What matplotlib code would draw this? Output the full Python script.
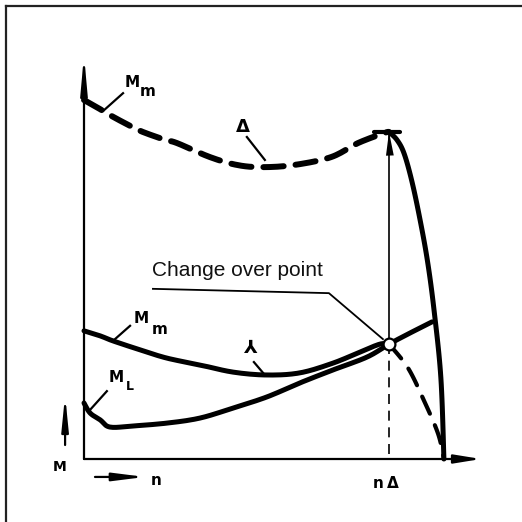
import numpy as np
import matplotlib.pyplot as plt
from matplotlib.lines import Line2D

# speed n in % of the change-over speed, torque M in arbitrary units
n_delta = 100.0

# delta (triangle) torque curve
delta_n = [0, 4.6, 8.5, 15.1, 19.3, 26.6, 30.5, 41.3, 50.2, 58.4, 68.9, 81, 89.8, 98.4, 100,
           102.6, 104.9, 107.4, 110.0, 112.6, 114.8, 117.0, 118.0]
delta_m = [100, 97.8, 95.8, 92.8, 91.1, 88.9, 88.0, 84.1, 81.9, 81.3, 81.9, 84.1, 88, 90.8, 91.1,
           88.9, 85.2, 77.7, 67.4, 55.2, 41.2, 22.6, 0]

# star torque curve
star_n = [0, 5.3, 9.5, 18.4, 27.2, 38, 48.9, 60, 70.8, 81.6, 90.5, 97, 100,
          106.2, 111.5, 116.1, 118.0]
star_m = [35.7, 34.3, 32.9, 30.4, 28.1, 26.2, 24.2, 23.4, 24.0, 26.7, 29.8, 32.0, 32.0,
          25.4, 16.2, 7.0, 0]

# load torque curve
load_n = [0, 2, 5.3, 8.5, 16, 27.2, 38, 48.9, 60, 70.8, 81.6, 92.8, 100, 106.9, 114.1]
load_m = [15.6, 12.8, 10.9, 8.9, 9.2, 10.0, 11.4, 14.2, 17.3, 21.2, 24.8, 28.4, 32.0, 35.1, 38.2]

m_change = 32.0


def smooth(xs, ys, steps=12):
    # catmull-rom line through the read points (drawing only)
    p = np.column_stack([xs, ys]).astype(float)
    p = np.vstack([p[0], p, p[-1]])
    out = []
    t = np.linspace(0, 1, steps, endpoint=False)[:, None]
    for i in range(1, len(p) - 2):
        p0, p1, p2, p3 = p[i - 1], p[i], p[i + 1], p[i + 2]
        seg = 0.5 * ((2 * p1) + (-p0 + p2) * t + (2 * p0 - 5 * p1 + 4 * p2 - p3) * t ** 2
                     + (-p0 + 3 * p1 - 3 * p2 + p3) * t ** 3)
        out.append(seg)
    out.append(p[-2][None, :])
    out = np.vstack(out)
    return out[:, 0], out[:, 1]


fig = plt.figure(figsize=(5.22, 5.22), dpi=100)
ax = fig.add_axes([0, 0, 1, 1])
ax.set_xlim(-27.54, 143.6)
ax.set_ylim(-17.55, 127.86)
ax.axis('off')

# frame (top and left edges only)
fig.add_artist(Line2D([6 / 522, 1], [1 - 6 / 522] * 2, transform=fig.transFigure, color='#222222', lw=1.6))
fig.add_artist(Line2D([6 / 522] * 2, [0, 1 - 6 / 522], transform=fig.transFigure, color='#222222', lw=1.6))

k = 'black'

# axes with arrows
ax.annotate('', xy=(0, 112.5), xytext=(0, 0),
            arrowprops=dict(arrowstyle='-|>,head_length=1.1,head_width=0.1', mutation_scale=20,
                            lw=1.6, color=k, shrinkA=0, shrinkB=0))
ax.annotate('', xy=(130.2, 0), xytext=(0, 0),
            arrowprops=dict(arrowstyle='-|>,head_length=0.8,head_width=0.13', mutation_scale=20,
                            lw=1.6, color=k, shrinkA=0, shrinkB=0))

# delta curve: dashed up to n_delta, solid afterwards
dn = np.array(delta_n)
dm = np.array(delta_m)
i_pk = int(np.where(dn == n_delta)[0][0])
x, y = smooth(dn[:i_pk + 1], dm[:i_pk + 1])
ax.plot(x, y, color=k, lw=4.3, dashes=(3.4, 2.0), dash_capstyle='round')
x, y = smooth(dn[i_pk:], dm[i_pk:])
ax.plot(x, y, color=k, lw=3.6, solid_capstyle='round', solid_joinstyle='round')

# star curve: solid up to change-over, dashed afterwards
sn = np.array(star_n)
sm = np.array(star_m)
i_ch = int(np.where(sn == n_delta)[0][0])
x, y = smooth(sn[:i_ch + 1], sm[:i_ch + 1])
ax.plot(x, y, color=k, lw=3.6, solid_capstyle='round', solid_joinstyle='round')
x, y = smooth(sn[i_ch:], sm[i_ch:])
ax.plot(x, y, color=k, lw=3.0, dashes=(4.5, 3.0), dash_capstyle='round')

# load curve
x, y = smooth(load_n, load_m)
ax.plot(x, y, color=k, lw=3.6, solid_capstyle='round', solid_joinstyle='round')

# vertical line at n_delta
m_peak = dm[i_pk]
ax.plot([n_delta, n_delta], [m_peak, m_change], color=k, lw=1.2)
ax.plot([n_delta, n_delta], [m_change, 0], color=k, lw=1.2, dashes=(6, 4))

# cap and arrowhead at the delta peak
ax.plot([n_delta - 4.9, n_delta + 3.6], [m_peak, m_peak], color=k, lw=3.0, solid_capstyle='round')
ax.annotate('', xy=(n_delta, m_peak), xytext=(n_delta + 0.3, m_peak - 7.0),
            arrowprops=dict(arrowstyle='-|>,head_length=0.85,head_width=0.14', mutation_scale=20,
                            lw=0, color=k, shrinkA=0, shrinkB=0))

# change-over point
ax.plot([n_delta], [m_change], 'o', ms=8.5, mfc='white', mec=k, mew=1.6, zorder=5)

# change-over label and leader
ax.text(22.3, 50.9, 'Change over point', fontsize=15, family='Liberation Sans', color='#111111',
        ha='left', va='baseline')
ax.plot([22.6, 80.3, 98.0], [47.4, 46.2, 33.4], color=k, lw=1.3)

bold = dict(fontweight='bold', family='DejaVu Sans', color=k, ha='center', va='center')

# top M_m label
ax.text(15.7, 105.0, 'M', fontsize=11, **bold)
ax.text(20.9, 102.5, 'm', fontsize=11, **bold)
ax.plot([6.6, 12.8], [97.2, 101.9], color=k, lw=1.6)

# delta label
ax.text(52.1, 92.5, 'Δ', fontsize=13, **bold)
ax.plot([53.4, 59.3], [89.7, 83.3], color=k, lw=1.6)

# lower M_m label
ax.text(18.7, 39.2, 'M', fontsize=11, **bold)
ax.text(24.9, 36.2, 'm', fontsize=11, **bold)
ax.plot([9.5, 15.1], [32.9, 37.1], color=k, lw=1.6)

# star label
ax.text(54.8, 31.0, '⅄', fontsize=13, **bold)
ax.plot([55.7, 58.7], [27.0, 24.0], color=k, lw=1.6)

# M_L label
ax.text(10.5, 22.8, 'M', fontsize=11, **bold)
ax.text(15.1, 20.3, 'L', fontsize=9, **bold)
ax.plot([2.0, 7.5], [13.7, 18.9], color=k, lw=1.6)

# axis labels
ax.text(-7.9, -2.2, 'M', fontsize=10, **bold)
ax.annotate('', xy=(-6.2, 17.8), xytext=(-6.2, 3.9),
            arrowprops=dict(arrowstyle='-|>,head_length=1.0,head_width=0.1', mutation_scale=20,
                            lw=1.6, color=k, shrinkA=0, shrinkB=0))
ax.text(23.6, -6.1, 'n', fontsize=11, **bold)
ax.annotate('', xy=(20.0, -5.0), xytext=(3.6, -5.0),
            arrowprops=dict(arrowstyle='-|>,head_length=0.95,head_width=0.12', mutation_scale=20,
                            lw=1.6, color=k, shrinkA=0, shrinkB=0))
ax.text(96.4, -6.7, 'n', fontsize=11, **bold)
ax.text(101.3, -6.7, 'Δ', fontsize=11, **bold)

fig.savefig('out.png', dpi=100, facecolor='white')
